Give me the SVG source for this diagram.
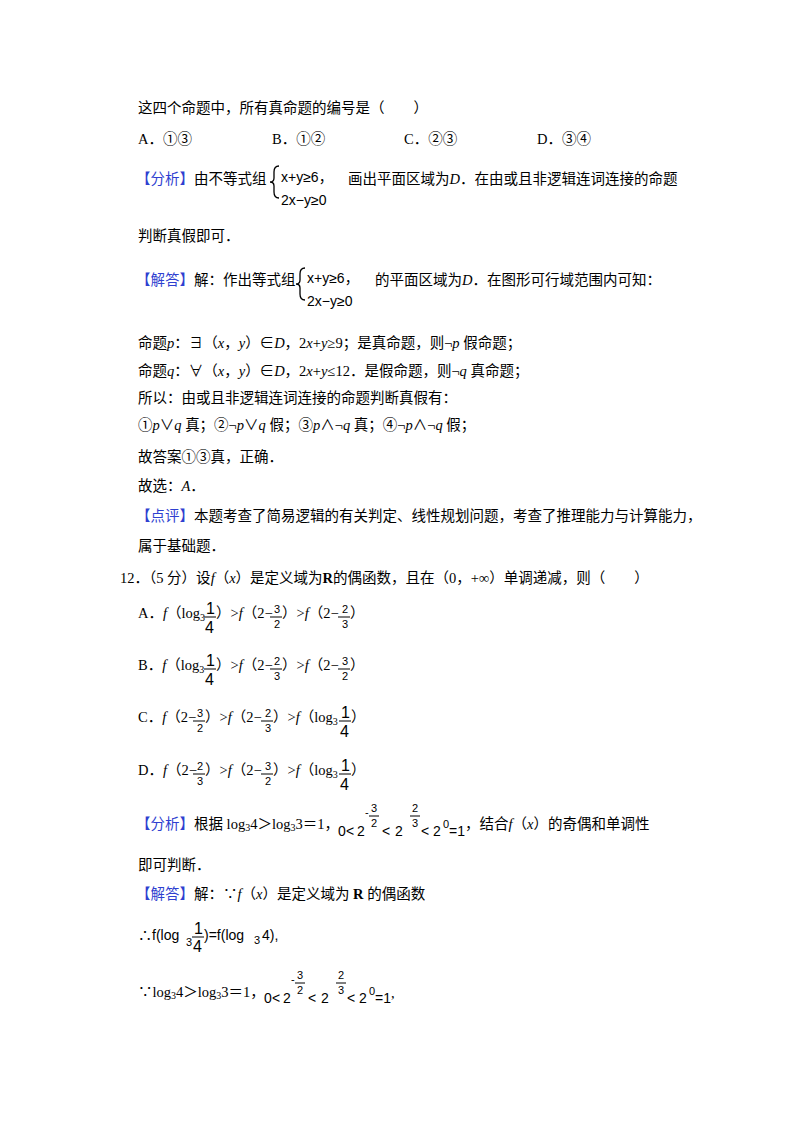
<svg xmlns="http://www.w3.org/2000/svg" width="800" height="1132" viewBox="0 0 800 1132">
<style>
text{font-family:"Liberation Serif","Noto Sans CJK SC",serif;font-size:14.5px;fill:#000}
.b{fill:#2f3fd0}
.s{font-family:"Liberation Sans","Noto Sans CJK SC",sans-serif;font-size:14px}
.sm{font-size:10px}
.fr{font-size:11px;font-family:"Liberation Sans",sans-serif}
.big{font-size:16px;font-family:"Liberation Sans",sans-serif}
.i{font-style:italic}
line,path{stroke:#000;fill:none}
</style>
<rect width="800" height="1132" fill="#fff"/>
<text x="138" y="113">这四个命题中，所有真命题的编号是（　　）</text>
<text x="138" y="144">A．①③</text><text x="272" y="144">B．①②</text><text x="404" y="144">C．②③</text><text x="537" y="144">D．③④</text>
<text x="136" y="184"><tspan class="b">【分析】</tspan>由不等式组</text>
<path d="M279,166 q-5,0 -5,6 v6 q0,4 -4,4 q4,0 4,4 v6 q0,6 5,6" stroke-width="1.3"/>
<text class="s" x="281" y="182">x+y≥6，</text><text class="s" x="281" y="205">2x−y≥0</text>
<text x="348" y="184">画出平面区域为<tspan class="i">D</tspan>．在由或且非逻辑连词连接的命题</text>
<text x="138" y="241">判断真假即可．</text>
<text x="136" y="285"><tspan class="b">【解答】</tspan>解：作出等式组</text>
<path d="M305,268 q-5,0 -5,6 v6 q0,4 -4,4 q4,0 4,4 v6 q0,6 5,6" stroke-width="1.3"/>
<text class="s" x="307" y="283">x+y≥6，</text><text class="s" x="307" y="306">2x−y≥0</text>
<text x="375" y="285">的平面区域为<tspan class="i">D</tspan>．在图形可行域范围内可知：</text>
<text x="138" y="348">命题<tspan class="i">p</tspan>：∃（<tspan class="i">x</tspan>，<tspan class="i">y</tspan>）∈<tspan class="i">D</tspan>，2<tspan class="i">x</tspan>+<tspan class="i">y</tspan>≥9；是真命题，则¬<tspan class="i">p</tspan> 假命题；</text>
<text x="138" y="376">命题<tspan class="i">q</tspan>：∀（<tspan class="i">x</tspan>，<tspan class="i">y</tspan>）∈<tspan class="i">D</tspan>，2<tspan class="i">x</tspan>+<tspan class="i">y</tspan>≤12．是假命题，则¬<tspan class="i">q</tspan> 真命题；</text>
<text x="138" y="403">所以：由或且非逻辑连词连接的命题判断真假有：</text>
<text x="138" y="430">①<tspan class="i">p</tspan>∨<tspan class="i">q</tspan> 真；②¬<tspan class="i">p</tspan>∨<tspan class="i">q</tspan> 假；③<tspan class="i">p</tspan>∧¬<tspan class="i">q</tspan> 真；④¬<tspan class="i">p</tspan>∧¬<tspan class="i">q</tspan> 假；</text>
<text x="138" y="462">故答案①③真，正确．</text>
<text x="138" y="491">故选：<tspan class="i">A</tspan>．</text>
<text x="136" y="521"><tspan class="b">【点评】</tspan>本题考查了简易逻辑的有关判定、线性规划问题，考查了推理能力与计算能力，</text>
<text x="138" y="551">属于基础题．</text>
<text x="120" y="583">12．（5 分）设<tspan class="i">f</tspan>（<tspan class="i">x</tspan>）是定义域为<tspan font-weight="bold">R</tspan>的偶函数，且在（0，+∞）单调递减，则（　　）</text>

<g id="optA">
<text x="138" y="618">A．<tspan class="i">f</tspan>（log<tspan class="sm" dy="3">3</tspan></text>
<text class="big" x="206" y="614">1</text><line x1="204" y1="617" x2="216" y2="617"/><text class="big" x="205" y="633">4</text>
<text x="216" y="618">）&gt;<tspan class="i">f</tspan>（2−</text>
<text class="fr" x="274" y="613">3</text><line x1="270" y1="617" x2="282" y2="617"/><text class="fr" x="274" y="628">2</text>
<text x="282" y="618">）&gt;<tspan class="i">f</tspan>（2−</text>
<text class="fr" x="342" y="613">2</text><line x1="338" y1="617" x2="350" y2="617"/><text class="fr" x="342" y="628">3</text>
<text x="350" y="618">）</text>
</g>
<g id="optB">
<text x="138" y="670">B．<tspan class="i">f</tspan>（log<tspan class="sm" dy="3">3</tspan></text>
<text class="big" x="206" y="666">1</text><line x1="204" y1="669" x2="216" y2="669"/><text class="big" x="205" y="685">4</text>
<text x="216" y="670">）&gt;<tspan class="i">f</tspan>（2−</text>
<text class="fr" x="274" y="665">2</text><line x1="270" y1="669" x2="282" y2="669"/><text class="fr" x="274" y="680">3</text>
<text x="282" y="670">）&gt;<tspan class="i">f</tspan>（2−</text>
<text class="fr" x="342" y="665">3</text><line x1="338" y1="669" x2="350" y2="669"/><text class="fr" x="342" y="680">2</text>
<text x="350" y="670">）</text>
</g>
<g id="optC">
<text x="138" y="722">C．<tspan class="i">f</tspan>（2−</text>
<text class="fr" x="197" y="717">3</text><line x1="193" y1="721" x2="205" y2="721"/><text class="fr" x="197" y="732">2</text>
<text x="205" y="722">）&gt;<tspan class="i">f</tspan>（2−</text>
<text class="fr" x="265" y="717">2</text><line x1="261" y1="721" x2="273" y2="721"/><text class="fr" x="265" y="732">3</text>
<text x="273" y="722">）&gt;<tspan class="i">f</tspan>（log<tspan class="sm" dy="3">3</tspan></text>
<text class="big" x="341" y="718">1</text><line x1="339" y1="721" x2="351" y2="721"/><text class="big" x="340" y="737">4</text>
<text x="351" y="722">）</text>
</g>
<g id="optD">
<text x="138" y="775">D．<tspan class="i">f</tspan>（2−</text>
<text class="fr" x="197" y="770">2</text><line x1="193" y1="774" x2="205" y2="774"/><text class="fr" x="197" y="785">3</text>
<text x="205" y="775">）&gt;<tspan class="i">f</tspan>（2−</text>
<text class="fr" x="265" y="770">3</text><line x1="261" y1="774" x2="273" y2="774"/><text class="fr" x="265" y="785">2</text>
<text x="273" y="775">）&gt;<tspan class="i">f</tspan>（log<tspan class="sm" dy="3">3</tspan></text>
<text class="big" x="341" y="771">1</text><line x1="339" y1="774" x2="351" y2="774"/><text class="big" x="340" y="790">4</text>
<text x="351" y="775">）</text>
</g>

<text x="136" y="829"><tspan class="b">【分析】</tspan>根据 log<tspan class="sm" dy="2">3</tspan><tspan dy="-2">4＞log</tspan><tspan class="sm" dy="2">3</tspan><tspan dy="-2">3＝1，</tspan></text>
<text class="s" x="338" y="836">0</text><text class="s" x="346" y="836">&lt;</text><text class="s" x="357" y="836">2</text>
<text class="fr" x="365" y="816">-</text><text class="fr" x="371" y="812">3</text><line x1="369" y1="816" x2="379" y2="816"/><text class="fr" x="371" y="827">2</text>
<text class="s" x="382" y="836">&lt;</text><text class="s" x="395" y="836">2</text>
<text class="fr" x="412" y="812">2</text><line x1="410" y1="816" x2="420" y2="816"/><text class="fr" x="412" y="827">3</text>
<text class="s" x="421" y="836">&lt;</text><text class="s" x="433" y="836">2</text><text class="fr" x="443" y="828">0</text><text class="s" x="449" y="836">=1</text>
<text x="465" y="829">，结合<tspan class="i">f</tspan>（<tspan class="i">x</tspan>）的奇偶和单调性</text>
<text x="138" y="870">即可判断．</text>
<text x="136" y="899"><tspan class="b">【解答】</tspan>解：∵<tspan class="i">f</tspan>（<tspan class="i">x</tspan>）是定义域为 <tspan font-weight="bold">R</tspan> 的偶函数</text>
<text class="s" x="138" y="940">∴f(log</text><text class="fr" x="186" y="946">3</text>
<text class="big" x="194" y="934">1</text><line x1="192" y1="937" x2="204" y2="937"/><text class="big" x="193" y="952">4</text>
<text class="s" x="204" y="940">)=f(log</text><text class="fr" x="254" y="944">3</text><text class="s" x="262" y="940">4),</text>
<text x="138" y="997">∵log<tspan class="sm" dy="2">3</tspan><tspan dy="-2">4＞log</tspan><tspan class="sm" dy="2">3</tspan><tspan dy="-2">3＝1，</tspan></text>
<text class="s" x="264" y="1003">0</text><text class="s" x="272" y="1003">&lt;</text><text class="s" x="283" y="1003">2</text>
<text class="fr" x="291" y="983">-</text><text class="fr" x="297" y="979">3</text><line x1="295" y1="983" x2="305" y2="983"/><text class="fr" x="297" y="994">2</text>
<text class="s" x="308" y="1003">&lt;</text><text class="s" x="321" y="1003">2</text>
<text class="fr" x="338" y="979">2</text><line x1="336" y1="983" x2="346" y2="983"/><text class="fr" x="338" y="994">3</text>
<text class="s" x="347" y="1003">&lt;</text><text class="s" x="359" y="1003">2</text><text class="fr" x="369" y="995">0</text><text class="s" x="375" y="1003">=1</text><text x="391" y="998">,</text>
</svg>
